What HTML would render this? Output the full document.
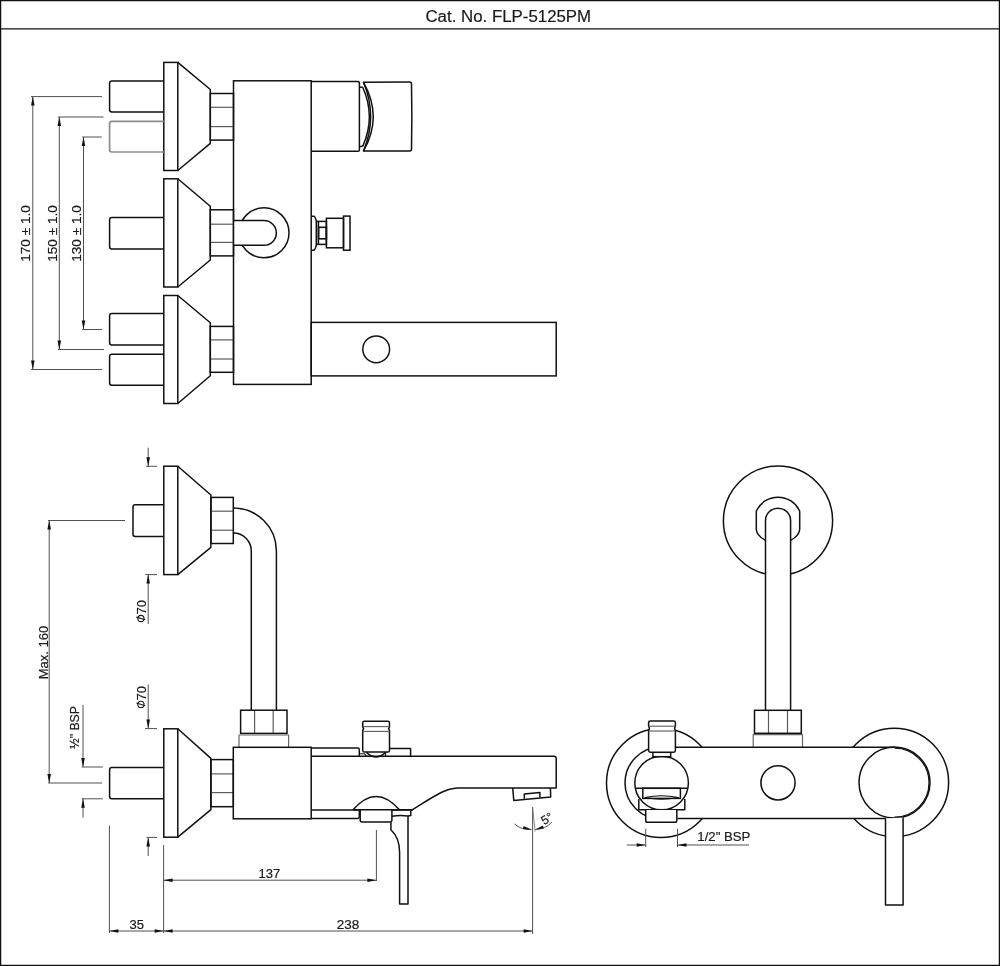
<!DOCTYPE html>
<html><head><meta charset="utf-8"><style>
html,body{margin:0;padding:0;background:#fff;}
svg{display:block;font-family:"Liberation Sans",sans-serif;will-change:transform;}
</style></head><body>
<svg width="1000" height="966" viewBox="0 0 1000 966">
<rect x="0.6" y="0.6" width="998.8" height="964.8" fill="none" stroke="#111" stroke-width="1.3"/>
<line x1="0" y1="28.9" x2="1000" y2="28.9" stroke="#111" stroke-width="1.3" />
<text x="508.3" y="21.5" font-size="16.85" text-anchor="middle" fill="#1a1a1a" stroke="#1a1a1a" stroke-width="0.2" >Cat. No. FLP-5125PM</text>
<rect x="233.5" y="80.8" width="77.7" height="303.6" stroke="#111" stroke-width="1.5" fill="none"/>
<rect x="311.2" y="322.4" width="245.0" height="53.5" stroke="#111" stroke-width="1.5" fill="none"/>
<circle cx="376.2" cy="349.3" r="13.4" stroke="#111" stroke-width="1.5" fill="none"/>
<path d="M311.2,81.6 L358,81.6 Q359.4,81.6 359.4,83 L359.4,150 Q359.4,151.3 358,151.3 L311.2,151.3" stroke="#111" stroke-width="1.5" fill="none" stroke-linejoin="round" />
<line x1="359.4" y1="87.2" x2="362.7" y2="87.2" stroke="#111" stroke-width="1.5" />
<line x1="359.4" y1="146.4" x2="362.7" y2="146.4" stroke="#111" stroke-width="1.5" />
<path d="M362.7,87.2 Q376,116.7 362.7,146.4" stroke="#111" stroke-width="1.5" fill="none" stroke-linejoin="round" />
<path d="M363.5,82.3 Q383,116.7 363.5,151 L409.8,151 Q411.5,151 411.5,149 Q412.2,116.7 411.5,84 Q411.5,82.1 409.8,82.1 Z" stroke="#111" stroke-width="1.5" fill="none" stroke-linejoin="round" />
<path d="M363.5,82.3 Q377.8,116.7 363.5,151" stroke="#111" stroke-width="1.5" fill="none" stroke-linejoin="round" />
<path d="M311.5,216.2 L314,216.2 Q315.2,216.5 316.5,221.4 L316.5,244.4 Q315.2,249.8 314,250.2 L311.5,250.2" stroke="#111" stroke-width="1.5" fill="none" stroke-linejoin="round" />
<rect x="316.5" y="221.4" width="9.9" height="23.0" stroke="#111" stroke-width="1.5" fill="none"/>
<line x1="318.6" y1="221.4" x2="318.6" y2="244.4" stroke="#111" stroke-width="1.2" />
<rect x="318.6" y="227.3" width="7.8" height="11.5" stroke="#111" stroke-width="1.6" fill="none"/>
<rect x="326.4" y="218.3" width="17.1" height="29.5" stroke="#111" stroke-width="1.5" fill="none"/>
<rect x="343.5" y="216.1" width="6.5" height="34.1" stroke="#111" stroke-width="1.5" fill="none"/>
<circle cx="264" cy="232.8" r="25" stroke="#111" stroke-width="1.5" fill="none"/>
<path d="M233.5,220.6 L264,220.6 A12.35,12.35 0 0 1 264,245.3 L233.5,245.3" stroke="#111" stroke-width="1.5" fill="#fff" stroke-linejoin="round" />
<rect x="163.8" y="62.4" width="14.0" height="108.1" stroke="#111" stroke-width="1.5" fill="none"/>
<path d="M177.8,62.4 L210.3,89.5 L210.3,143.3 L177.8,170.5" stroke="#111" stroke-width="1.5" fill="none" stroke-linejoin="round" />
<line x1="210.3" y1="107.3" x2="233.5" y2="107.3" stroke="#5c5c5c" stroke-width="1.2" />
<line x1="210.3" y1="126.6" x2="233.5" y2="126.6" stroke="#5c5c5c" stroke-width="1.2" />
<rect x="210.3" y="93.5" width="23.2" height="46.6" stroke="#111" stroke-width="1.5" fill="none"/>
<rect x="163.8" y="178.8" width="14.0" height="108.2" stroke="#111" stroke-width="1.5" fill="none"/>
<path d="M177.8,178.8 L210.3,206.3 L210.3,260 L177.8,287" stroke="#111" stroke-width="1.5" fill="none" stroke-linejoin="round" />
<line x1="210.3" y1="224.2" x2="233.5" y2="224.2" stroke="#5c5c5c" stroke-width="1.2" />
<line x1="210.3" y1="242.4" x2="233.5" y2="242.4" stroke="#5c5c5c" stroke-width="1.2" />
<rect x="210.3" y="209.8" width="23.2" height="46.1" stroke="#111" stroke-width="1.5" fill="none"/>
<rect x="163.8" y="295.5" width="14.0" height="108.0" stroke="#111" stroke-width="1.5" fill="none"/>
<path d="M177.8,295.5 L210.3,322.8 L210.3,375.7 L177.8,403.5" stroke="#111" stroke-width="1.5" fill="none" stroke-linejoin="round" />
<line x1="210.3" y1="339.9" x2="233.5" y2="339.9" stroke="#5c5c5c" stroke-width="1.2" />
<line x1="210.3" y1="359" x2="233.5" y2="359" stroke="#5c5c5c" stroke-width="1.2" />
<rect x="210.3" y="326.4" width="23.2" height="45.9" stroke="#111" stroke-width="1.5" fill="none"/>
<path d="M163.8,81.1 L111.8,81.1 Q109.6,81.1 109.6,83.3 L109.6,109.7 Q109.6,111.9 111.8,111.9 L163.8,111.9" stroke="#111" stroke-width="1.5" fill="none" stroke-linejoin="round" />
<path d="M163.8,121.3 L111.8,121.3 Q109.6,121.3 109.6,123.5 L109.6,149.8 Q109.6,152 111.8,152 L163.8,152" stroke="#8c8c8c" stroke-width="1.7" fill="none" stroke-linejoin="round" />
<path d="M163.8,217.5 L111.8,217.5 Q109.6,217.5 109.6,219.7 L109.6,246.8 Q109.6,249 111.8,249 L163.8,249" stroke="#111" stroke-width="1.5" fill="none" stroke-linejoin="round" />
<path d="M163.8,313.6 L111.8,313.6 Q109.6,313.6 109.6,315.8 L109.6,342.8 Q109.6,345 111.8,345 L163.8,345" stroke="#111" stroke-width="1.5" fill="none" stroke-linejoin="round" />
<path d="M163.8,354.3 L111.8,354.3 Q109.6,354.3 109.6,356.5 L109.6,383.0 Q109.6,385.2 111.8,385.2 L163.8,385.2" stroke="#111" stroke-width="1.5" fill="none" stroke-linejoin="round" />
<line x1="32.8" y1="96.6" x2="32.8" y2="369.5" stroke="#505050" stroke-width="1.0" />
<line x1="31" y1="96.6" x2="102" y2="96.6" stroke="#505050" stroke-width="1.0" />
<line x1="31" y1="369.5" x2="102" y2="369.5" stroke="#505050" stroke-width="1.0" />
<path d="M32.80,96.60 L34.60,105.60 L31.00,105.60 Z" fill="#111"/>
<path d="M32.80,369.50 L31.00,360.50 L34.60,360.50 Z" fill="#111"/>
<line x1="59.3" y1="117" x2="59.3" y2="349.5" stroke="#505050" stroke-width="1.0" />
<line x1="57.8" y1="117" x2="103.5" y2="117" stroke="#505050" stroke-width="1.0" />
<line x1="57.8" y1="349.5" x2="104" y2="349.5" stroke="#505050" stroke-width="1.0" />
<path d="M59.30,117.00 L61.10,126.00 L57.50,126.00 Z" fill="#111"/>
<path d="M59.30,349.50 L57.50,340.50 L61.10,340.50 Z" fill="#111"/>
<line x1="83.5" y1="137" x2="83.5" y2="329.5" stroke="#505050" stroke-width="1.0" />
<line x1="82.2" y1="137" x2="101.8" y2="137" stroke="#505050" stroke-width="1.0" />
<line x1="82.2" y1="329.5" x2="102" y2="329.5" stroke="#505050" stroke-width="1.0" />
<path d="M83.50,137.00 L85.30,146.00 L81.70,146.00 Z" fill="#111"/>
<path d="M83.50,329.50 L81.70,320.50 L85.30,320.50 Z" fill="#111"/>
<text x="30.3" y="233.5" font-size="13.6" text-anchor="middle" fill="#1a1a1a" stroke="#1a1a1a" stroke-width="0.2" transform="rotate(-90 30.3 233.5)" >170 ± 1.0</text>
<text x="57.3" y="233.5" font-size="13.6" text-anchor="middle" fill="#1a1a1a" stroke="#1a1a1a" stroke-width="0.2" transform="rotate(-90 57.3 233.5)" >150 ± 1.0</text>
<text x="81.1" y="233.5" font-size="13.6" text-anchor="middle" fill="#1a1a1a" stroke="#1a1a1a" stroke-width="0.2" transform="rotate(-90 81.1 233.5)" >130 ± 1.0</text>
<path d="M233.3,507.9 A43.1,43.1 0 0 1 276.4,551 L276.4,710.2" stroke="#111" stroke-width="1.5" fill="none" stroke-linejoin="round" />
<path d="M233.3,533.1 A18,18 0 0 1 251.3,551 L251.3,710.2" stroke="#111" stroke-width="1.5" fill="none" stroke-linejoin="round" />
<path d="M163.8,504.7 L135.2,504.7 Q133,504.7 133,506.9 L133,534.1999999999999 Q133,536.4 135.2,536.4 L163.8,536.4" stroke="#111" stroke-width="1.5" fill="none" stroke-linejoin="round" />
<rect x="163.8" y="466.2" width="14.0" height="108.4" stroke="#111" stroke-width="1.5" fill="none"/>
<path d="M177.8,466.2 L210.9,495 L210.9,547.3 L177.8,574.6" stroke="#111" stroke-width="1.5" fill="none" stroke-linejoin="round" />
<line x1="210.9" y1="511.2" x2="233.3" y2="511.2" stroke="#5c5c5c" stroke-width="1.2" />
<line x1="210.9" y1="530.2" x2="233.3" y2="530.2" stroke="#5c5c5c" stroke-width="1.2" />
<rect x="210.9" y="497.4" width="22.4" height="46.1" stroke="#111" stroke-width="1.5" fill="none"/>
<path d="M163.8,767.5 L111.8,767.5 Q109.6,767.5 109.6,769.7 L109.6,796.5 Q109.6,798.7 111.8,798.7 L163.8,798.7" stroke="#111" stroke-width="1.5" fill="none" stroke-linejoin="round" />
<rect x="163.8" y="728.8" width="14.0" height="108.4" stroke="#111" stroke-width="1.5" fill="none"/>
<path d="M177.8,728.8 L210.9,758.4 L210.9,809.7 L177.8,837.2" stroke="#111" stroke-width="1.5" fill="none" stroke-linejoin="round" />
<line x1="210.9" y1="773.9" x2="233.3" y2="773.9" stroke="#5c5c5c" stroke-width="1.2" />
<line x1="210.9" y1="792.6" x2="233.3" y2="792.6" stroke="#5c5c5c" stroke-width="1.2" />
<rect x="210.9" y="759.6" width="22.4" height="47.1" stroke="#111" stroke-width="1.5" fill="none"/>
<line x1="254.6" y1="710.2" x2="254.6" y2="733.4" stroke="#5c5c5c" stroke-width="1.2" />
<line x1="273.2" y1="710.2" x2="273.2" y2="733.4" stroke="#5c5c5c" stroke-width="1.2" />
<rect x="240.6" y="710.2" width="46.4" height="23.2" stroke="#111" stroke-width="1.5" fill="none"/>
<path d="M239,747.4 L239,735 L288.6,735 L288.6,747.4" stroke="#666" stroke-width="1.2" fill="none" stroke-linejoin="round" />
<rect x="233.3" y="747.3" width="77.9" height="71.5" stroke="#111" stroke-width="1.5" fill="none"/>
<path d="M311.2,756.2 L554,756.2 Q556.2,756.2 556.2,758.4 L556.2,787.9 L457.6,787.9 C445,788.5 436,795 412,810 L311.2,810" stroke="#111" stroke-width="1.5" fill="none" stroke-linejoin="round" />
<path d="M311.2,748.1 L357.6,748.1 Q359.3,748.1 359.3,749.8 L359.3,756.2" stroke="#111" stroke-width="1.5" fill="none" stroke-linejoin="round" />
<path d="M389.5,748.6 L410.6,748.6 L410.6,756.2" stroke="#111" stroke-width="1.5" fill="none" stroke-linejoin="round" />
<path d="M311.2,818.4 L357.6,818.4 Q359.3,818.4 359.3,816.8 L359.3,810" stroke="#111" stroke-width="1.5" fill="none" stroke-linejoin="round" />
<path d="M364.3,721.3 L387.9,721.3 Q389.5,721.3 389.5,723 L389.5,726.8 L388.6,728.6 L389.5,730.6 L389.5,750.4 Q389.5,752 387.9,752 L364.3,752 Q362.7,752 362.7,750.4 L362.7,730.6 L363.6,728.6 L362.7,726.8 L362.7,723 Q362.7,721.3 364.3,721.3 Z" stroke="#111" stroke-width="1.5" fill="#fff" stroke-linejoin="round" />
<line x1="362.7" y1="726.6" x2="389.5" y2="726.6" stroke="#5c5c5c" stroke-width="1.1" />
<line x1="362.7" y1="731.4" x2="389.5" y2="731.4" stroke="#5c5c5c" stroke-width="1.1" />
<path d="M366.5,752.4 Q376,761.5 385.5,752.4" stroke="#111" stroke-width="1.5" fill="none" stroke-linejoin="round" />
<line x1="385.6" y1="752" x2="385.6" y2="756.2" stroke="#111" stroke-width="1.1" />
<path d="M359.3,753.8 L364.5,753.8 L366.5,756.2" stroke="#111" stroke-width="1.1" fill="none" stroke-linejoin="round" />
<path d="M353,809.8 Q376,783 399.5,809.8" stroke="#111" stroke-width="1.5" fill="none" stroke-linejoin="round" />
<path d="M360.2,809.8 L360.2,820.3 Q360.2,822 362,822 L390.2,822 Q391.9,822 391.9,820.3 L391.9,809.8" stroke="#111" stroke-width="1.5" fill="#fff" stroke-linejoin="round" />
<line x1="353" y1="809.8" x2="413" y2="809.8" stroke="#111" stroke-width="1.5" />
<path d="M391.9,816.2 Q400,815 408,816 L410.8,815.5 L410.8,810" stroke="#111" stroke-width="1.5" fill="none" stroke-linejoin="round" />
<path d="M390.9,822 L390.9,829.8 Q399.6,838 399.6,852 L399.6,904 L408,904 L408,816" stroke="#111" stroke-width="1.5" fill="none" stroke-linejoin="round" />
<path d="M512.7,788 L513.8,800.4 L550.7,797.1 L550.4,788" stroke="#111" stroke-width="1.5" fill="none" stroke-linejoin="round" />
<path d="M524.3,798.8 L524.3,794 L539.9,792.4 L539.9,797.4" stroke="#111" stroke-width="1.5" fill="none" stroke-linejoin="round" />
<line x1="148.2" y1="447.7" x2="148.2" y2="466.3" stroke="#505050" stroke-width="1.0" />
<path d="M148.20,466.30 L146.40,457.30 L150.00,457.30 Z" fill="#111"/>
<line x1="146" y1="466.3" x2="157" y2="466.3" stroke="#505050" stroke-width="1.0" />
<line x1="145.5" y1="574.6" x2="157" y2="574.6" stroke="#505050" stroke-width="1.0" />
<line x1="148.2" y1="574.6" x2="148.2" y2="624" stroke="#505050" stroke-width="1.0" />
<path d="M148.20,574.60 L150.00,583.60 L146.40,583.60 Z" fill="#111"/>
<text x="145.9" y="614.4" font-size="13" text-anchor="start" fill="#1a1a1a" stroke="#1a1a1a" stroke-width="0.2" transform="rotate(-90 145.9 614.4)" >70</text>
<circle cx="140.9" cy="618.5" r="3.1" stroke="#1a1a1a" stroke-width="1.1" fill="none"/>
<line x1="136.4" y1="617.1" x2="145.3" y2="619.8" stroke="#1a1a1a" stroke-width="1.1" />
<line x1="148.2" y1="684.4" x2="148.2" y2="728.6" stroke="#505050" stroke-width="1.0" />
<path d="M148.20,728.60 L146.40,719.60 L150.00,719.60 Z" fill="#111"/>
<line x1="145" y1="728.6" x2="157" y2="728.6" stroke="#505050" stroke-width="1.0" />
<line x1="146.6" y1="837.4" x2="157" y2="837.4" stroke="#505050" stroke-width="1.0" />
<line x1="148.2" y1="837.4" x2="148.2" y2="856" stroke="#505050" stroke-width="1.0" />
<path d="M148.20,837.40 L150.00,846.40 L146.40,846.40 Z" fill="#111"/>
<text x="145.9" y="700.5" font-size="13" text-anchor="start" fill="#1a1a1a" stroke="#1a1a1a" stroke-width="0.2" transform="rotate(-90 145.9 700.5)" >70</text>
<circle cx="140.9" cy="704.4" r="3.1" stroke="#1a1a1a" stroke-width="1.1" fill="none"/>
<line x1="136.4" y1="703" x2="145.3" y2="705.7" stroke="#1a1a1a" stroke-width="1.1" />
<line x1="49.2" y1="520.5" x2="49.2" y2="783" stroke="#505050" stroke-width="1.0" />
<path d="M49.20,520.50 L51.00,529.50 L47.40,529.50 Z" fill="#111"/>
<path d="M49.20,783.00 L47.40,774.00 L51.00,774.00 Z" fill="#111"/>
<line x1="48" y1="520.5" x2="125" y2="520.5" stroke="#505050" stroke-width="1.0" />
<line x1="48.2" y1="783" x2="102" y2="783" stroke="#505050" stroke-width="1.0" />
<text x="47.5" y="652.5" font-size="13" text-anchor="middle" fill="#1a1a1a" stroke="#1a1a1a" stroke-width="0.2" transform="rotate(-90 47.5 652.5)" >Max. 160</text>
<line x1="83" y1="704.9" x2="83" y2="767" stroke="#505050" stroke-width="1.0" />
<path d="M83.00,767.00 L81.20,758.00 L84.80,758.00 Z" fill="#111"/>
<line x1="81.7" y1="767" x2="102.8" y2="767" stroke="#505050" stroke-width="1.0" />
<line x1="81.7" y1="798.8" x2="102.8" y2="798.8" stroke="#505050" stroke-width="1.0" />
<line x1="83" y1="798.8" x2="83" y2="817.5" stroke="#505050" stroke-width="1.0" />
<path d="M83.00,798.80 L84.80,807.80 L81.20,807.80 Z" fill="#111"/>
<text x="79" y="727.3" font-size="12.3" text-anchor="middle" fill="#1a1a1a" stroke="#1a1a1a" stroke-width="0.2" transform="rotate(-90 79 727.3)" >½" BSP</text>
<line x1="109.4" y1="825.6" x2="109.4" y2="933" stroke="#505050" stroke-width="1.0" />
<line x1="163.6" y1="845" x2="163.6" y2="933" stroke="#505050" stroke-width="1.0" />
<line x1="376.4" y1="830" x2="376.4" y2="881" stroke="#505050" stroke-width="1.0" />
<line x1="532.6" y1="807" x2="532.6" y2="934" stroke="#505050" stroke-width="1.0" />
<line x1="163.6" y1="880.2" x2="376.4" y2="880.2" stroke="#505050" stroke-width="1.0" />
<path d="M163.60,880.20 L172.60,878.40 L172.60,882.00 Z" fill="#111"/>
<path d="M376.40,880.20 L367.40,882.00 L367.40,878.40 Z" fill="#111"/>
<text x="269.3" y="877.6" font-size="13" text-anchor="middle" fill="#1a1a1a" stroke="#1a1a1a" stroke-width="0.2" >137</text>
<line x1="109.4" y1="931" x2="532.6" y2="931" stroke="#505050" stroke-width="1.0" />
<path d="M109.40,931.00 L118.40,929.20 L118.40,932.80 Z" fill="#111"/>
<path d="M163.60,931.00 L154.60,932.80 L154.60,929.20 Z" fill="#111"/>
<path d="M163.60,931.00 L172.60,929.20 L172.60,932.80 Z" fill="#111"/>
<path d="M532.60,931.00 L523.60,932.80 L523.60,929.20 Z" fill="#111"/>
<text x="136.8" y="929" font-size="13" text-anchor="middle" fill="#1a1a1a" stroke="#1a1a1a" stroke-width="0.2" >35</text>
<text x="348.1" y="929" font-size="13.5" text-anchor="middle" fill="#1a1a1a" stroke="#1a1a1a" stroke-width="0.2" >238</text>
<line x1="532.6" y1="807" x2="535.1" y2="831.5" stroke="#777" stroke-width="0.9" />
<path d="M514.5,824 A23,23 0 0 0 531.5,829.5" stroke="#505050" stroke-width="1.0" fill="none" stroke-linejoin="round" />
<path d="M531.50,829.50 L522.89,828.89 L523.62,825.98 Z" fill="#111"/>
<path d="M535.2,829.5 A23,23 0 0 0 552,822" stroke="#505050" stroke-width="1.0" fill="none" stroke-linejoin="round" />
<path d="M535.20,829.50 L542.91,825.62 L543.77,828.49 Z" fill="#111"/>
<text transform="translate(546.8,818.3) rotate(-32)" x="0" y="4.4" font-size="12.2" text-anchor="middle" fill="#1a1a1a" stroke="#1a1a1a" stroke-width="0.2">5°</text>
<circle cx="778" cy="520.7" r="54.6" stroke="#111" stroke-width="1.5" fill="none"/>
<path d="M765.5,540.3 Q757,536 756.3,529.5 L756.3,511.3 A23.7,23.7 0 0 1 799.7,511.3 L799.7,529.5 Q799,536 790.6,540.3" stroke="#111" stroke-width="1.5" fill="#fff" stroke-linejoin="round" />
<path d="M765.5,710.3 L765.5,520.7 A12.55,12.55 0 0 1 790.6,520.7 L790.6,710.3" stroke="#111" stroke-width="1.5" fill="#fff" stroke-linejoin="round" />
<rect x="754.5" y="710.3" width="46.8" height="23" fill="#fff"/>
<line x1="768.5" y1="710.3" x2="768.5" y2="733.3" stroke="#5c5c5c" stroke-width="1.2" />
<line x1="787.5" y1="710.3" x2="787.5" y2="733.3" stroke="#5c5c5c" stroke-width="1.2" />
<rect x="754.5" y="710.3" width="46.8" height="23.0" stroke="#111" stroke-width="1.5" fill="none"/>
<path d="M753.2,747.2 L753.2,734.6 L802.5,734.6 L802.5,747.2" stroke="#666" stroke-width="1.2" fill="none" stroke-linejoin="round" />
<circle cx="661" cy="783" r="54.5" stroke="#111" stroke-width="1.5" fill="none"/>
<circle cx="894.4" cy="782.4" r="54.2" stroke="#111" stroke-width="1.5" fill="none"/>
<circle cx="661" cy="783" r="36" stroke="#111" stroke-width="1.5" fill="none"/>
<rect x="675.6" y="747.6" width="218" height="70.6" fill="#fff"/>
<line x1="675.4" y1="747.2" x2="894.4" y2="747.2" stroke="#111" stroke-width="1.5" />
<line x1="677.5" y1="818.6" x2="886" y2="818.6" stroke="#111" stroke-width="1.5" />
<circle cx="778" cy="782.8" r="17.1" stroke="#111" stroke-width="1.5" fill="none"/>
<circle cx="894.5" cy="782.6" r="35.5" stroke="#111" stroke-width="1.5" fill="none"/>
<path d="M894.5,748.2 A34.5,34.5 0 0 1 894.5,817.2" stroke="#111" stroke-width="1.2" fill="none" stroke-linejoin="round" />
<path d="M885.5,818.6 L885.5,905 L903.1,905 L903.1,817.5" stroke="#111" stroke-width="1.5" fill="#fff" stroke-linejoin="round" />
<rect x="640" y="788.5" width="44" height="22" fill="#fff"/>
<circle cx="661.6" cy="783" r="26.8" stroke="#111" stroke-width="1.5" fill="#fff"/>
<line x1="635.5" y1="788.3" x2="687.7" y2="788.3" stroke="#111" stroke-width="1.5" />
<rect x="642.8" y="788.3" width="37.6" height="10.1" stroke="#111" stroke-width="1.5" fill="none"/>
<path d="M645,797.5 Q661,794 678.5,797.5 Q661,801 645,797.5 Z" stroke="#111" stroke-width="1.2" fill="none" stroke-linejoin="round" />
<path d="M638.8,799 L638.8,809.8 L684.8,809.8 L684.8,799" stroke="#111" stroke-width="1.5" fill="none" stroke-linejoin="round" />
<path d="M645.7,810 L645.7,820.5 Q645.7,822.3 647.5,822.3 L675,822.3 Q676.8,822.3 676.8,820.5 L676.8,810" stroke="#111" stroke-width="1.5" fill="#fff" stroke-linejoin="round" />
<rect x="652.9" y="752.3" width="17.8" height="4.4" stroke="#111" stroke-width="1.5" fill="#fff"/>
<path d="M650.3,721 L673.7,721 Q675.4,721 675.4,722.7 L675.4,726 L674.6,728.5 L675.4,731 L675.4,750.6 Q675.4,752.3 673.7,752.3 L650.3,752.3 Q648.6,752.3 648.6,750.6 L648.6,731 L649.4,728.5 L648.6,726 L648.6,722.7 Q648.6,721 650.3,721 Z" stroke="#111" stroke-width="1.5" fill="#fff" stroke-linejoin="round" />
<line x1="648.6" y1="726.2" x2="675.4" y2="726.2" stroke="#5c5c5c" stroke-width="1.1" />
<line x1="648.6" y1="731" x2="675.4" y2="731" stroke="#5c5c5c" stroke-width="1.1" />
<line x1="645.7" y1="828.8" x2="645.7" y2="847" stroke="#505050" stroke-width="1.0" />
<line x1="677.5" y1="828.8" x2="677.5" y2="847" stroke="#505050" stroke-width="1.0" />
<line x1="626.8" y1="845" x2="645.7" y2="845" stroke="#505050" stroke-width="1.0" />
<path d="M645.70,845.00 L636.70,846.80 L636.70,843.20 Z" fill="#111"/>
<line x1="677.5" y1="845" x2="749" y2="845" stroke="#505050" stroke-width="1.0" />
<path d="M677.50,845.00 L686.50,843.20 L686.50,846.80 Z" fill="#111"/>
<text x="697.3" y="841" font-size="13.2" text-anchor="start" fill="#1a1a1a" stroke="#1a1a1a" stroke-width="0.2" >1/2" BSP</text>
</svg>
</body></html>
